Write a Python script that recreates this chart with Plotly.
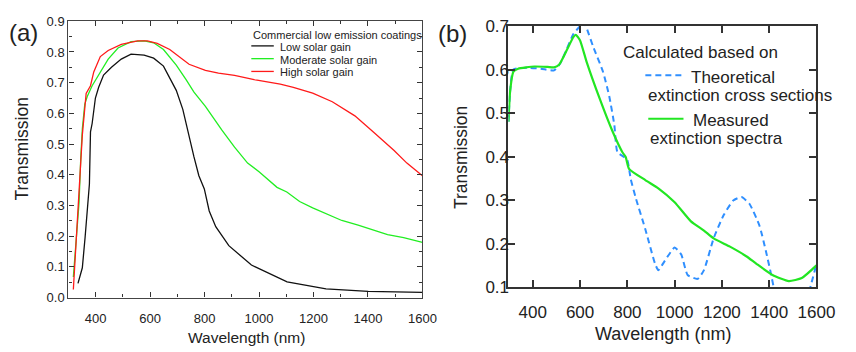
import plotly.graph_objects as go

# ---------------- data: panel (a) ----------------
wl_low = [335, 351, 361, 369, 377, 381, 387, 399, 411, 429, 458, 494, 530, 578, 613, 649, 672, 696,
          720, 743, 761, 779, 799, 817, 841, 889, 972, 1103, 1246, 1401, 1600]
t_low = [0.046, 0.097, 0.195, 0.28, 0.37, 0.54, 0.567, 0.65, 0.685, 0.725, 0.75, 0.777, 0.793, 0.79,
         0.78, 0.754, 0.716, 0.675, 0.613, 0.52, 0.458, 0.397, 0.354, 0.282, 0.231, 0.169, 0.106,
         0.051, 0.028, 0.02, 0.017]

wl_mod = [318, 327, 339, 345, 351, 360, 369, 387, 411, 446, 482, 530, 578, 613, 649, 696, 732, 761,
          803, 863, 910, 958, 1000, 1066, 1102, 1149, 1197, 1304, 1364, 1472, 1531, 1600]
t_mod = [0.067, 0.16, 0.31, 0.45, 0.55, 0.63, 0.655, 0.69, 0.725, 0.777, 0.813, 0.834, 0.836, 0.83,
         0.808, 0.757, 0.71, 0.669, 0.623, 0.546, 0.49, 0.438, 0.41, 0.359, 0.344, 0.313, 0.292,
         0.251, 0.236, 0.205, 0.195, 0.18]

wl_high = [318, 325, 330, 334, 345, 351, 365, 381, 393, 417, 446, 494, 554, 590, 626, 672, 743, 803,
           851, 910, 982, 1078, 1126, 1197, 1269, 1352, 1424, 1496, 1543, 1600]
t_high = [0.026, 0.128, 0.215, 0.29, 0.415, 0.53, 0.665, 0.69, 0.735, 0.785, 0.805, 0.825, 0.836,
          0.836, 0.828, 0.808, 0.76, 0.74, 0.731, 0.724, 0.71, 0.695, 0.685, 0.666, 0.638, 0.592,
          0.536, 0.479, 0.438, 0.397]

# ---------------- data: panel (b) ----------------
wl_meas = [297, 304, 318, 338, 407, 462, 490, 511, 545, 572, 582, 600, 628, 683, 738, 779, 793, 807,
           876, 931, 1000, 1069, 1124, 1165, 1234, 1303, 1345, 1414, 1483, 1538, 1600]
t_meas = [0.48, 0.55, 0.595, 0.602, 0.607, 0.606, 0.605, 0.611, 0.646, 0.675, 0.68, 0.667, 0.617,
          0.533, 0.457, 0.41, 0.399, 0.372, 0.346, 0.327, 0.295, 0.251, 0.23, 0.212, 0.193, 0.171,
          0.154, 0.128, 0.114, 0.121, 0.15]

wl_theo = [297, 304, 318, 379, 434, 490, 517, 545, 572, 600, 615, 628, 655, 697, 724, 745, 758, 786,
           800, 814, 835, 876, 917, 931, 959, 1000, 1028, 1055, 1097, 1124, 1165, 1207, 1248, 1283,
           1317, 1359, 1386, 1407, 1421, 1450, 1500, 1550, 1572, 1600]
t_theo = [0.48, 0.55, 0.6, 0.604, 0.602, 0.598, 0.615, 0.649, 0.682, 0.7, 0.71, 0.695, 0.653, 0.595,
          0.537, 0.472, 0.41, 0.399, 0.392, 0.349, 0.306, 0.233, 0.154, 0.139, 0.161, 0.191, 0.175,
          0.128, 0.119, 0.139, 0.212, 0.265, 0.299, 0.307, 0.291, 0.241, 0.183, 0.132, 0.096, 0.06,
          0.04, 0.06, 0.096, 0.153]

names_a = ["Low solar gain", "Moderate solar gain", "High solar gain"]
legend_title_a = "Commercial low emission coatings"
legend_title_b = "Calculated based on"
names_b = [("Theoretical", "extinction cross sections"), ("Measured", "extinction spectra")]

W, H = 856, 352
FONT = "Arial, Liberation Sans, sans-serif"
BLACK, GREEN_A, RED = "#111111", "#22ee22", "#ff1a1a"
BLUE_B, GREEN_B = "#2f8fff", "#22e622"


def px(x):
    return x / W


def py(y):
    return 1 - y / H


fig = go.Figure()
fig.add_trace(go.Scatter(x=wl_low, y=t_low, mode="lines", name=names_a[0],
                         line=dict(color=BLACK, width=1.3), xaxis="x", yaxis="y"))
fig.add_trace(go.Scatter(x=wl_mod, y=t_mod, mode="lines", name=names_a[1],
                         line=dict(color=GREEN_A, width=1.3), xaxis="x", yaxis="y"))
fig.add_trace(go.Scatter(x=wl_high, y=t_high, mode="lines", name=names_a[2],
                         line=dict(color=RED, width=1.3), xaxis="x", yaxis="y"))
fig.add_trace(go.Scatter(x=wl_theo, y=t_theo, mode="lines", name=names_b[0][0],
                         line=dict(color=BLUE_B, width=2, dash="6px,4px", shape="spline", smoothing=0.5),
                         xaxis="x2", yaxis="y2"))
fig.add_trace(go.Scatter(x=wl_meas, y=t_meas, mode="lines", name=names_b[1][0],
                         line=dict(color=GREEN_B, width=2.2, shape="spline", smoothing=0.5),
                         xaxis="x2", yaxis="y2"))

axis_common = dict(showgrid=False, zeroline=False, showline=True, mirror="ticks",
                   ticks="inside", tickcolor="#333333", color="#222222")

fig.update_layout(
    width=W, height=H,
    margin=dict(l=0, r=0, t=0, b=0),
    paper_bgcolor="white", plot_bgcolor="white",
    showlegend=False,
    font=dict(family=FONT, color="#222222"),
    xaxis=dict(domain=[px(70), px(432)], range=[300, 1600], tickvals=[400, 600, 800, 1000, 1200, 1400, 1600],
               ticklen=5, linewidth=1.4, linecolor="#444444", tickwidth=1.2,
               tickfont=dict(size=13), anchor="y", ticklabelstandoff=9,
               minor=dict(ticks="inside", ticklen=3, tickvals=[300, 500, 700, 900, 1100, 1300, 1500],
                          tickcolor="#333333"),
               **axis_common),
    yaxis=dict(domain=[py(305), py(13)], range=[0, 0.9], dtick=0.1, tick0=0, tickformat=".1f",
               ticklen=5, linewidth=1.4, linecolor="#444444", tickwidth=1.2,
               tickfont=dict(size=13), anchor="x",
               minor=dict(ticks="inside", ticklen=3, dtick=0.05, tickcolor="#333333"),
               **axis_common),
    xaxis2=dict(domain=[px(520), px(835)], range=[297, 1600], tickvals=[400, 600, 800, 1000, 1200, 1400, 1600],
                ticklen=7, linewidth=2, linecolor="#333333", tickwidth=1.8,
                tickfont=dict(size=17), anchor="y2", ticklabelstandoff=8, **axis_common),
    yaxis2=dict(domain=[py(294), py(18)], range=[0.1, 0.7], dtick=0.1, tick0=0.1, tickformat=".1f",
                ticklen=7, linewidth=2, linecolor="#333333", tickwidth=1.8,
                tickfont=dict(size=17), anchor="x2", ticklabelstandoff=-6, **axis_common),
)

ann = []
# axis titles
ann.append(dict(text="Wavelength (nm)", x=px(252), y=py(347), font=dict(size=15.5)))
ann.append(dict(text="Transmission", x=px(22), y=py(148), textangle=-90, font=dict(size=17.5)))
ann.append(dict(text="Wavelength (nm)", x=px(678), y=py(344), font=dict(size=18)))
ann.append(dict(text="Transmission", x=px(471), y=py(157), textangle=-90, font=dict(size=17.5)))
# panel labels
ann.append(dict(text="(a)", x=px(24), y=py(25), font=dict(size=24)))
ann.append(dict(text="(b)", x=px(463), y=py(26), font=dict(size=24)))

# legend (a)
ann.append(dict(text=legend_title_a, x=px(257), y=py(27), xanchor="left", font=dict(size=11)))
shapes = []
for i, (nm, col) in enumerate(zip(names_a, [BLACK, GREEN_A, RED])):
    yy = 39 + i * 13.5
    shapes.append(dict(type="line", xref="paper", yref="paper", x0=px(257), x1=px(280), y0=py(yy), y1=py(yy),
                       line=dict(color=col, width=1.3)))
    ann.append(dict(text=nm, x=px(284), y=py(yy + 1), xanchor="left", font=dict(size=11)))

# legend (b)
ann.append(dict(text=legend_title_b, x=px(635), y=py(46), xanchor="left", font=dict(size=17)))
shapes.append(dict(type="line", xref="paper", yref="paper", x0=px(660), x1=px(697), y0=py(70), y1=py(70),
                   line=dict(color=BLUE_B, width=2, dash="6px,4px")))
ann.append(dict(text=names_b[0][0], x=px(705), y=py(72), xanchor="left", font=dict(size=17)))
ann.append(dict(text=names_b[0][1], x=px(661), y=py(91), xanchor="left", font=dict(size=17)))
shapes.append(dict(type="line", xref="paper", yref="paper", x0=px(663), x1=px(699), y0=py(116), y1=py(116),
                   line=dict(color=GREEN_B, width=2.2)))
ann.append(dict(text=names_b[1][0], x=px(707), y=py(118), xanchor="left", font=dict(size=17)))
ann.append(dict(text=names_b[1][1], x=px(663), y=py(137), xanchor="left", font=dict(size=17)))

for a in ann:
    a.setdefault("xanchor", "center")
    a.update(xref="paper", yref="paper", yanchor="middle", showarrow=False)
    a["font"] = dict(family=FONT, color="#222222", **a["font"])

fig.update_layout(annotations=ann, shapes=shapes)
fig.write_html("out.html")
